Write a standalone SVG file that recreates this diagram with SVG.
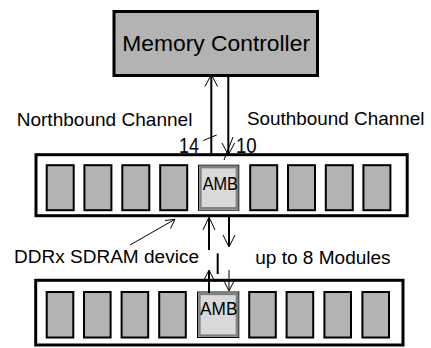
<svg xmlns="http://www.w3.org/2000/svg" width="431" height="348" viewBox="0 0 431 348">
<style>
text{font-family:"Liberation Sans",Arial,sans-serif;fill:#000}
.chip{fill:#b3b3b3;stroke:#000;stroke-width:2}
.mod{fill:#fff;stroke:#000;stroke-width:3}
.amb{fill:#d9d9d9;stroke:#808080;stroke-width:2.5}
.ambo{fill:none;stroke:#000;stroke-width:1}
.ln{fill:none;stroke:#000;stroke-width:2}
.ah{fill:none;stroke:#000;stroke-width:1}
</style>
<rect width="431" height="348" fill="#fff"/>
<g id="memory-controller">
<rect x="114" y="11.5" width="203.5" height="64" fill="#b3b3b3" stroke="#000" stroke-width="3"/>
<text x="122.3" y="50.5" font-size="21.5" textLength="187.7" lengthAdjust="spacingAndGlyphs">Memory Controller</text>
</g>
<g id="module-1">
<rect class="mod" x="36" y="154.7" width="371.2" height="61"/>
<rect class="chip" x="46.7" y="165.2" width="27" height="45"/>
<rect class="chip" x="84.4" y="165.2" width="27" height="45"/>
<rect class="chip" x="122.3" y="165.2" width="27" height="45"/>
<rect class="chip" x="160.2" y="165.2" width="27" height="45"/>
<rect class="ambo" x="198.5" y="165.2" width="40.3" height="45"/>
<rect class="amb" x="200.4" y="167.1" width="36.5" height="41.2"/>
<text x="202.7" y="189.5" font-size="17.5" textLength="35.3" lengthAdjust="spacingAndGlyphs">AMB</text>
<rect class="chip" x="250.2" y="165.2" width="27" height="45"/>
<rect class="chip" x="288" y="165.2" width="27" height="45"/>
<rect class="chip" x="325.8" y="165.2" width="27" height="45"/>
<rect class="chip" x="363.4" y="165.2" width="27" height="45"/>
</g>
<g id="module-2">
<rect class="mod" x="35.7" y="280.3" width="367.3" height="64.7"/>
<rect class="chip" x="46.7" y="292" width="26.6" height="45.5"/>
<rect class="chip" x="84" y="292" width="26.6" height="45.5"/>
<rect class="chip" x="121.6" y="292" width="26.6" height="45.5"/>
<rect class="chip" x="159.2" y="292" width="26.6" height="45.5"/>
<rect class="ambo" x="197.5" y="292" width="41.3" height="45.5"/>
<rect class="amb" x="199.4" y="293.9" width="37.5" height="41.7"/>
<text x="200" y="314.5" font-size="17.5" textLength="37.4" lengthAdjust="spacingAndGlyphs">AMB</text>
<rect class="chip" x="249.2" y="292" width="26.6" height="45.5"/>
<rect class="chip" x="286.6" y="292" width="26.6" height="45.5"/>
<rect class="chip" x="324.4" y="292" width="26.6" height="45.5"/>
<rect class="chip" x="362.4" y="292" width="26.6" height="45.5"/>
</g>
<g id="labels">
<text x="16.7" y="126.3" font-size="19" textLength="175.7" lengthAdjust="spacingAndGlyphs">Northbound Channel</text>
<text x="247" y="124.5" font-size="19" textLength="177.4" lengthAdjust="spacingAndGlyphs">Southbound Channel</text>
<text x="179" y="153" font-size="21.5" textLength="20" lengthAdjust="spacingAndGlyphs">14</text>
<text x="236" y="153" font-size="21.5" textLength="20.7" lengthAdjust="spacingAndGlyphs">10</text>
<text x="14" y="263" font-size="18" textLength="185" lengthAdjust="spacingAndGlyphs">DDRx SDRAM device</text>
<text x="255.3" y="264.3" font-size="18" textLength="135.3" lengthAdjust="spacingAndGlyphs">up to 8 Modules</text>
</g>
<g id="connectors">
<line class="ln" x1="211.3" y1="155" x2="211.3" y2="75"/>
<polyline class="ah" points="205,86.5 211.3,74.5 217.6,86.5"/>
<line class="ln" x1="228.3" y1="77" x2="228.3" y2="154"/>
<polyline class="ah" points="222,143 228.3,155 234.6,143"/>
<line class="ah" x1="203.3" y1="140.5" x2="216.7" y2="135"/>
<line class="ah" x1="224" y1="160" x2="233" y2="137"/>
<line class="ln" x1="209" y1="250" x2="209" y2="218"/>
<polyline class="ah" points="203,230 209,217 215,230"/>
<line class="ln" x1="217.7" y1="253.3" x2="217.7" y2="274"/>
<line class="ln" x1="209" y1="293" x2="209" y2="271"/>
<polyline class="ah" points="203,282 209,270 215,282"/>
<line class="ln" x1="229" y1="216" x2="229" y2="246"/>
<polyline class="ah" points="223,235 229,247 235,235"/>
<line class="ah" x1="229" y1="270" x2="229" y2="290"/>
<polyline class="ah" points="223,279 229,291 235,279"/>
<line class="ah" x1="130" y1="245" x2="175" y2="219.3"/>
<polyline class="ah" points="165,220.5 175,219.3 170.5,228.5"/>
</g>
</svg>
